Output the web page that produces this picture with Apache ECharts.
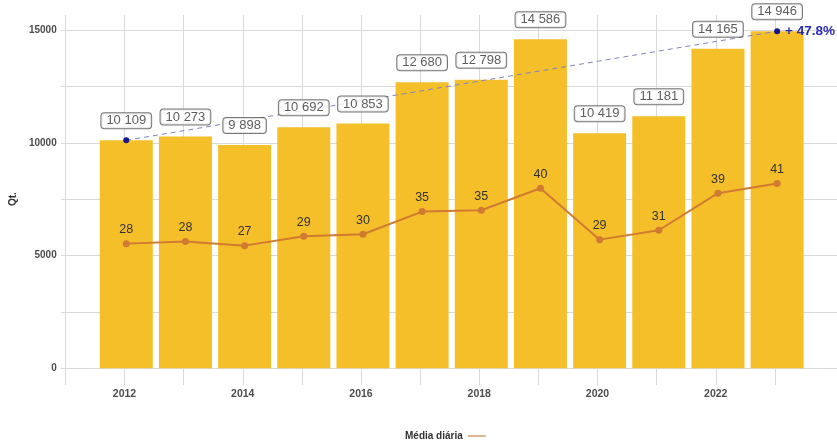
<!DOCTYPE html>
<html>
<head>
<meta charset="utf-8">
<script src="https://cdn.jsdelivr.net/npm/echarts@6/dist/echarts.min.js"></script>
<style>
html,body{margin:0;padding:0;background:#fff;}
#chart{width:837px;height:441px;}
</style>
</head>
<body>
<div id="chart"></div>
<script>
// ---- data ----
const years = [2012, 2013, 2014, 2015, 2016, 2017, 2018, 2019, 2020, 2021, 2022, 2023];
const totals = [10109, 10273, 9898, 10692, 10853, 12680, 12798, 14586, 10419, 11181, 14165, 14946];
const dailyPlotted = [5528, 5617, 5439, 5856, 5945, 6948, 7009, 7986, 5705, 6122, 7764, 8190];
const dailyLabels = [28, 28, 27, 29, 30, 35, 35, 40, 29, 31, 39, 41];
const trendYears = [2012, 2023];
const trendValues = [10109, 14946];
const trendLabel = '+ 47.8%';
const yTickLabels = [0, 5000, 10000, 15000];
const xTickLabels = [2012, 2014, 2016, 2018, 2020, 2022];
const legendName = 'Média diária';
const yName = 'Qt.';

const FONT = '"Liberation Sans", Arial, Helvetica, sans-serif';
const fmtSpace = v => String(v).replace(/\B(?=(\d{3})+(?!\d))/g, ' ');

const barData = years.map((y, i) => [y, totals[i]]);
const lineData = years.map((y, i) => [y, dailyPlotted[i]]);
const trendData = trendYears.map((y, i) => {
  const item = { value: [y, trendValues[i]] };
  if (i === trendYears.length - 1) {
    item.label = {
      show: true, position: 'right', distance: 5, formatter: trendLabel,
      color: '#2a2ab5', fontWeight: 'bold', fontSize: 13.5, fontFamily: FONT
    };
  }
  return item;
});

const chart = echarts.init(document.getElementById('chart'), null, { renderer: 'canvas' });
chart.setOption({
  animation: false,
  backgroundColor: '#ffffff',
  textStyle: { fontFamily: FONT },
  grid: [
    { left: 59, right: 0, top: 30, bottom: 72.7, containLabel: false },
    { left: 65.4, right: 0.7, top: 15, bottom: 56, containLabel: false }
  ],
  xAxis: [
    { type: 'value', gridIndex: 0, min: 2010.892, max: 2024.012, show: false },
    {
      type: 'value', gridIndex: 1, min: 2011, max: 2024, interval: 1,
      axisLine: { show: false }, axisTick: { show: false },
      splitLine: { show: true, showMaxLine: false, lineStyle: { color: '#d9d9d9', width: 1 } },
      axisLabel: {
        margin: 4, fontSize: 10.5, fontWeight: 'bold', color: '#4d4d4d', fontFamily: FONT,
        formatter: v => (xTickLabels.indexOf(v) >= 0 ? String(v) : '')
      }
    }
  ],
  yAxis: [
    {
      type: 'value', gridIndex: 0, min: 0, max: 15000, interval: 2500,
      axisLine: { show: false }, axisTick: { show: false },
      splitLine: { show: true, lineStyle: { color: '#d9d9d9', width: 1 } },
      axisLabel: {
        margin: 4, fontSize: 10, fontWeight: 'bold', color: '#4d4d4d', fontFamily: FONT,
        formatter: v => (yTickLabels.indexOf(v) >= 0 ? String(v) : '')
      },
      name: yName, nameLocation: 'middle', nameGap: 32, nameRotate: 90,
      nameTextStyle: { fontSize: 10, fontWeight: 'bold', color: '#333', fontFamily: FONT }
    },
    { type: 'value', gridIndex: 1, min: 0, max: 1, show: false, splitLine: { show: false } }
  ],
  legend: {
    show: true,
    data: [{ name: legendName, itemStyle: { color: '#dbb892' } }],
    left: 405, top: 431, padding: 0,
    align: 'right',
    icon: 'rect', itemWidth: 18, itemHeight: 2,
    textStyle: { fontSize: 10, fontWeight: 'bold', color: '#333', fontFamily: FONT },
    selectedMode: false
  },
  series: [
    {
      type: 'bar', name: 'Qt', xAxisIndex: 0, yAxisIndex: 0,
      data: barData, barWidth: 53, z: 2,
      itemStyle: { color: '#F5BF2A' },
      label: { show: false }
    },
    {
      type: 'line', name: 'trend', xAxisIndex: 0, yAxisIndex: 0,
      data: trendData, z: 3,
      symbol: 'circle', symbolSize: 6,
      itemStyle: { color: '#15158c' },
      lineStyle: { color: '#7f84c2', width: 1, type: [5, 4] }
    },
    {
      type: 'line', name: legendName, xAxisIndex: 0, yAxisIndex: 0,
      data: lineData, z: 4,
      symbol: 'circle', symbolSize: 7,
      itemStyle: { color: '#D17A32' },
      lineStyle: { color: '#D17A32', width: 2 },
      label: {
        show: true, position: 'top', distance: 4,
        fontSize: 12.5, color: '#333', fontFamily: FONT,
        formatter: p => String(dailyLabels[p.dataIndex])
      }
    },
    {
      type: 'scatter', name: 'labels', xAxisIndex: 0, yAxisIndex: 0,
      data: barData, z: 6, symbolSize: 0.001, silent: true,
      itemStyle: { color: 'rgba(0,0,0,0)' },
      label: {
        show: true, position: 'top', distance: 12,
        fontSize: 13, lineHeight: 13, color: '#333', fontFamily: FONT,
        backgroundColor: '#ffffff', borderColor: '#555', borderWidth: 1, borderRadius: 3,
        padding: [1, 5, 1, 5],
        formatter: p => fmtSpace(totals[p.dataIndex])
      }
    }
  ]
});
</script>
</body>
</html>
